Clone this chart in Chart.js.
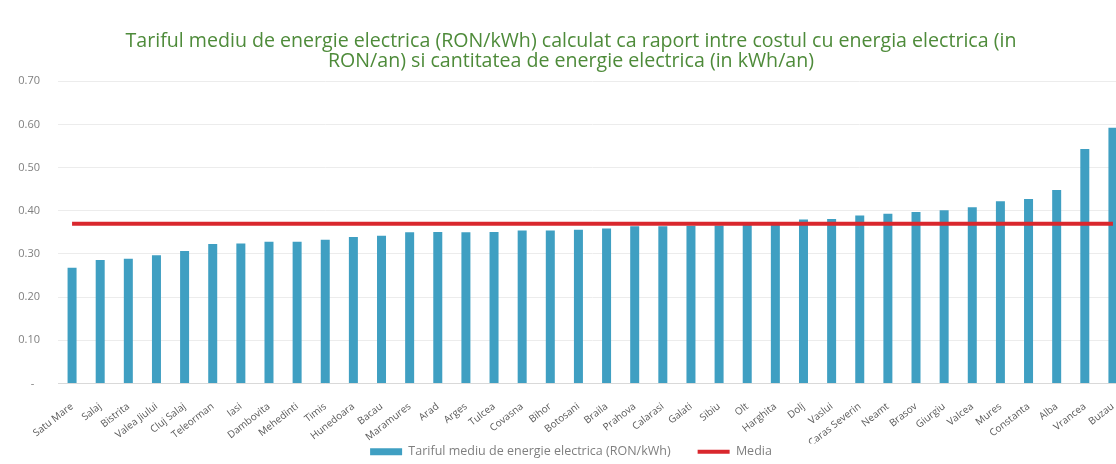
<!DOCTYPE html>
<html lang="ro">
<head>
<meta charset="utf-8">
<title>Tariful mediu de energie electrica</title>
<script src="https://cdn.jsdelivr.net/npm/chart.js@4.4.1/dist/chart.umd.min.js"></script>
<style>
  html, body { margin: 0; padding: 0; background: #fff; overflow: hidden; }
  #wrap { width: 1140px; height: 468px; }
</style>
</head>
<body>
<div id="wrap"><canvas id="tarifChart"></canvas></div>
<script>
// judete, ordonate crescator dupa tarif
const judete = [
  "Satu Mare", "Salaj", "Bistrita", "Valea Jiului", "Cluj Salaj", "Teleorman",
  "Iasi", "Dambovita", "Mehedinti", "Timis", "Hunedoara", "Bacau",
  "Maramures", "Arad", "Arges", "Tulcea", "Covasna", "Bihor",
  "Botosani", "Braila", "Prahova", "Calarasi", "Galati", "Sibiu",
  "Olt", "Harghita", "Dolj", "Vaslui", "Caras Severin", "Neamt",
  "Brasov", "Giurgiu", "Valcea", "Mures", "Constanta", "Alba",
  "Vrancea", "Buzau"
];

// RON/kWh
const tarifMediu = [
  0.268, 0.286, 0.289, 0.297, 0.307, 0.323,
  0.324, 0.328, 0.328, 0.333, 0.339, 0.342,
  0.350, 0.351, 0.350, 0.351, 0.354, 0.354,
  0.356, 0.359, 0.364, 0.364, 0.365, 0.366,
  0.367, 0.374, 0.380, 0.381, 0.389, 0.393,
  0.397, 0.401, 0.408, 0.422, 0.427, 0.448,
  0.543, 0.592
];

const valoareMedie = 0.37;
const linieMedie = judete.map(() => valoareMedie);

const eticheteY = ["-  ", "0.10", "0.20", "0.30", "0.40", "0.50", "0.60", "0.70"];

const fontText = "'Open Sans', 'Liberation Sans', sans-serif";

const ctx = document.getElementById("tarifChart").getContext("2d");

new Chart(ctx, {
  data: {
    labels: judete,
    datasets: [
      {
        type: "line",
        label: "Media",
        data: linieMedie,
        borderColor: "#d9272d",
        backgroundColor: "#d9272d",
        borderWidth: 4,
        pointRadius: 0,
        fill: false,
      },
      {
        type: "bar",
        label: "Tariful mediu de energie electrica (RON/kWh)",
        data: tarifMediu,
        backgroundColor: "#3f9fc2",
        categoryPercentage: 1,
        barPercentage: 0.32,
      },
    ],
  },
  options: {
    responsive: true,
    maintainAspectRatio: false,
    animation: false,
    layout: { padding: { left: 15, right: 13, top: 0, bottom: 0 } },
    plugins: {
      title: {
        display: true,
        text: [
          "Tariful mediu de energie electrica (RON/kWh) calculat ca raport intre costul cu energia electrica (in",
          "RON/an) si cantitatea de energie electrica (in kWh/an)",
        ],
        color: "#4e8b3a",
        font: { family: fontText, size: 19.6, weight: "normal", lineHeight: 1 },
        padding: { top: 32, bottom: 10 },
      },
      legend: {
        position: "bottom",
        reverse: true,
        labels: {
          usePointStyle: true,
          pointStyleWidth: 32,
          boxHeight: 7,
          padding: 2,
          color: "#7f7f7f",
          font: { family: fontText, size: 12.5 },
          generateLabels(chart) {
            const items = Chart.defaults.plugins.legend.labels.generateLabels(chart);
            items.forEach((item) => {
              const eLinie = chart.data.datasets[item.datasetIndex].type === "line";
              item.pointStyle = eLinie ? "line" : "rect";
              item.lineWidth = eLinie ? 4 : 0;
              // spatiu intre cele doua intrari ale legendei
              if (!eLinie) item.text += "\u2003\u2003";
            });
            return items;
          },
        },
      },
      tooltip: { enabled: false },
    },
    scales: {
      x: {
        afterFit(scale) {
          scale.height = 60;
        },
        grid: { display: false },
        border: { display: true, color: "#d9d9d9" },
        ticks: {
          autoSkip: false,
          minRotation: 38,
          maxRotation: 38,
          padding: 9,
          color: "#595959",
          font: { family: fontText, size: 10 },
        },
      },
      y: {
        min: 0,
        max: 0.7,
        afterFit(scale) {
          scale.width = 43;
        },
        grid: { color: "#ececec", drawTicks: false },
        border: { display: false },
        ticks: {
          stepSize: 0.1,
          padding: 18,
          color: "#7f7f7f",
          font: { family: fontText, size: 11 },
          callback: (value, index) => eticheteY[index],
        },
      },
    },
  },
});
</script>
</body>
</html>
